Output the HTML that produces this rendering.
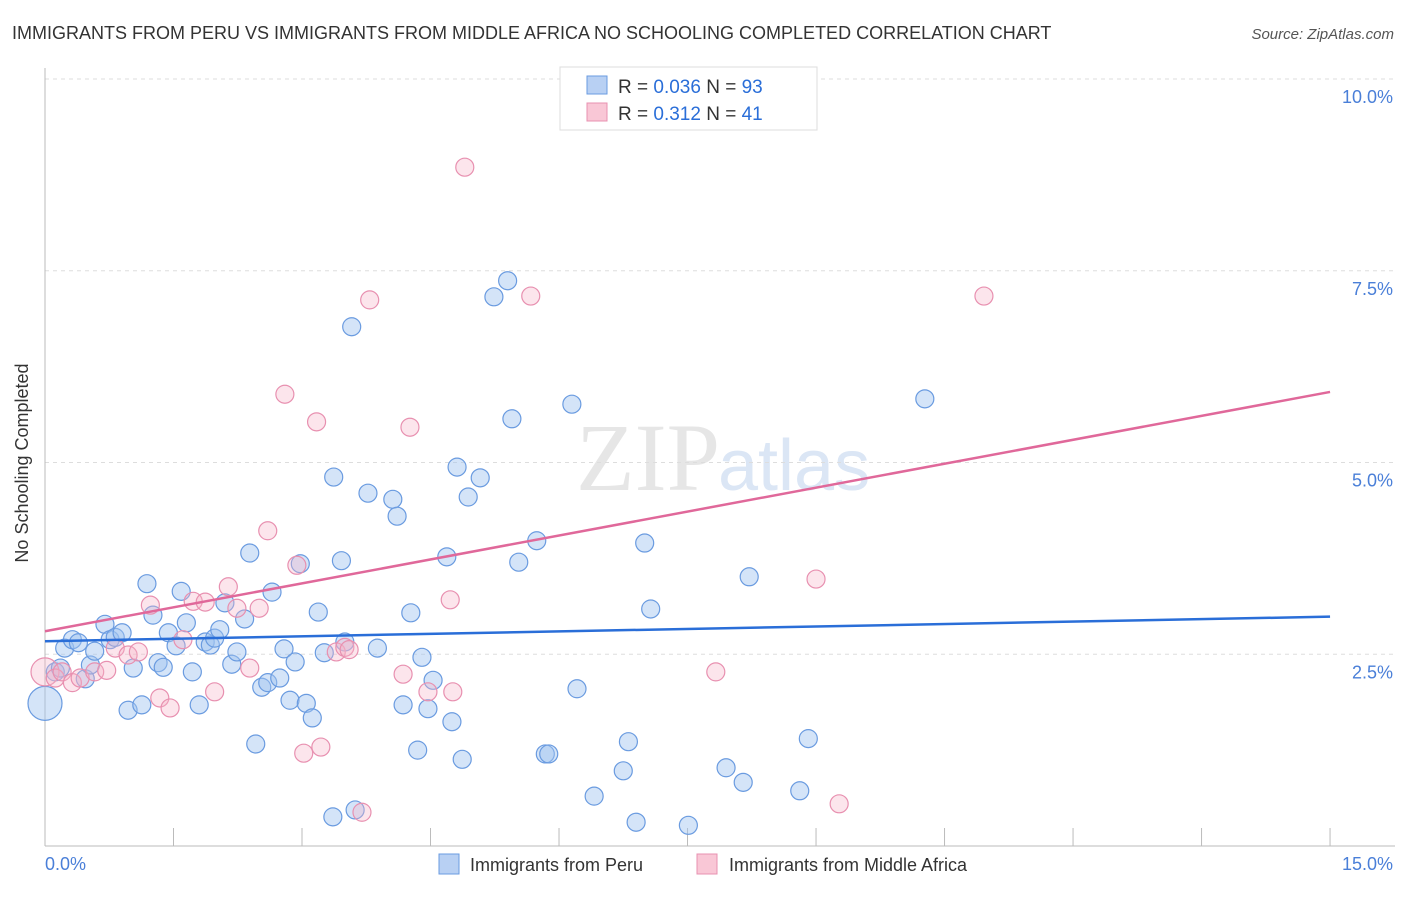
<!DOCTYPE html>
<html><head><meta charset="utf-8"><style>
body{margin:0;background:#fff;font-family:"Liberation Sans",sans-serif;}
</style></head><body>
<svg id="c" width="1406" height="892" xmlns="http://www.w3.org/2000/svg">
<text x="12" y="39" font-size="18" fill="#333">IMMIGRANTS FROM PERU VS IMMIGRANTS FROM MIDDLE AFRICA NO SCHOOLING COMPLETED CORRELATION CHART</text>
<text x="1394" y="39" font-size="15" fill="#555" font-style="italic" text-anchor="end">Source: ZipAtlas.com</text>
<text x="720" y="490" font-size="96" fill="#e6e6e6" text-anchor="end" font-family="Liberation Serif">ZIP</text>
<text x="718" y="490" font-size="72" fill="#dbe6f5">atlas</text>
<g id="grid"></g>
<line x1="45" y1="68" x2="45" y2="846" stroke="#bbb"/>
<line x1="45" y1="846" x2="1395" y2="846" stroke="#bbb"/>
<text x="22" y="457" font-size="18" fill="#333" text-anchor="middle" transform="rotate(-90 28 457)">No Schooling Completed</text>
<g id="pts"></g>
<g id="lines"></g>
<text x="45" y="870" font-size="18" fill="#4a7fd8">0.0%</text>
<text x="1393" y="870" font-size="18" fill="#4a7fd8" text-anchor="end">15.0%</text>
<g>
<rect x="560" y="67" width="257" height="63" fill="#fff" stroke="#ddd"/>
<rect x="587" y="76" width="20" height="18" fill="#b8d0f3" stroke="#6a9be0"/>
<rect x="587" y="103" width="20" height="18" fill="#f9c7d6" stroke="#e890b0"/>
<text x="618" y="93" font-size="19" fill="#333">R = <tspan fill="#2a6ed8">0.036</tspan>   N = <tspan fill="#2a6ed8">93</tspan></text>
<text x="618" y="120" font-size="19" fill="#333">R =  <tspan fill="#2a6ed8">0.312</tspan>   N =  <tspan fill="#2a6ed8">41</tspan></text>
</g>
<g>
<rect x="439" y="854" width="20" height="20" fill="#b8d0f3" stroke="#6a9be0"/>
<text x="470" y="871" font-size="18" fill="#333">Immigrants from Peru</text>
<rect x="697" y="854" width="20" height="20" fill="#f9c7d6" stroke="#e890b0"/>
<text x="729" y="871" font-size="18" fill="#333">Immigrants from Middle Africa</text>
</g>
</svg>
<script>
const yTicks=[2.5,5.0,7.5,10.0];
const xTicks=[0,1.5,3,4.5,6,7.5,9,10.5,12,13.5,15];
const peruX=[0.00,0.12,0.18,0.23,0.32,0.39,0.47,0.53,0.58,0.70,0.76,0.82,0.90,0.97,1.03,1.13,1.19,1.26,1.32,1.38,1.44,1.53,1.59,1.65,1.72,1.80,1.87,1.93,1.98,2.04,2.10,2.18,2.24,2.33,2.39,2.46,2.53,2.60,2.65,2.74,2.79,2.86,2.92,2.98,3.05,3.12,3.19,3.26,3.36,3.37,3.46,3.50,3.58,3.62,3.77,3.88,4.06,4.11,4.18,4.27,4.35,4.40,4.47,4.53,4.69,4.75,4.81,4.87,4.94,5.08,5.24,5.40,5.45,5.53,5.74,5.84,5.88,6.15,6.21,6.41,6.75,6.81,6.90,7.00,7.07,7.51,7.95,8.15,8.22,8.81,8.91,10.27];
const peruY=[1.86,2.27,2.32,2.58,2.69,2.65,2.18,2.36,2.54,2.89,2.69,2.72,2.78,1.77,2.32,1.84,3.42,3.01,2.39,2.33,2.78,2.61,3.32,2.91,2.27,1.84,2.66,2.62,2.71,2.82,3.17,2.37,2.53,2.96,3.82,1.33,2.07,2.13,3.31,2.19,2.57,1.90,2.40,3.68,1.86,1.67,3.05,2.52,0.38,4.81,3.72,2.66,6.77,0.47,4.60,2.58,4.52,4.30,1.84,3.04,1.25,2.46,1.79,2.16,3.77,1.62,4.94,1.13,4.55,4.80,7.16,7.37,5.57,3.70,3.98,1.20,1.20,5.76,2.05,0.65,0.98,1.36,0.31,3.95,3.09,0.27,1.02,0.83,3.51,0.72,1.40,5.83];
const afrX=[0.00,0.12,0.20,0.32,0.41,0.58,0.72,0.82,0.97,1.09,1.23,1.34,1.46,1.61,1.73,1.87,1.98,2.14,2.24,2.39,2.50,2.60,2.80,2.94,3.02,3.17,3.22,3.40,3.50,3.55,3.70,3.79,4.18,4.26,4.47,4.73,4.76,4.90,5.67,7.83,9.00,9.27,10.96];
const afrY=[2.27,2.19,2.27,2.13,2.19,2.27,2.29,2.58,2.49,2.53,3.14,1.93,1.80,2.69,3.19,3.18,2.01,3.38,3.10,2.32,3.10,4.11,5.89,3.66,1.21,5.53,1.29,2.53,2.59,2.56,0.44,7.12,2.24,5.46,2.01,3.21,2.01,8.85,7.17,2.27,3.48,0.55,7.17];
const peruTrend=[2.67,2.99];
const afrTrend=[2.80,5.92];
const NS='http://www.w3.org/2000/svg';
const sx=v=>45+v*85.67, sy=v=>846-v*76.7;
function mk(tag,attrs,parent){const e=document.createElementNS(NS,tag);for(const k in attrs)e.setAttribute(k,attrs[k]);parent.appendChild(e);return e;}
const grid=document.getElementById('grid');
yTicks.forEach(t=>{
  const l=mk('line',{x1:45,x2:1395,y1:sy(t),y2:sy(t),stroke:'#ddd','stroke-dasharray':'4,4'},grid);
  
  
  const tx=mk('text',{x:1393,y:sy(t)+24,'font-size':18,fill:'#4a7fd8','text-anchor':'end'},grid);
  tx.textContent=t.toFixed(1)+'%';
  
  
});
xTicks.forEach(t=>{
  const l=mk('line',{x1:sx(t),x2:sx(t),y1:828,y2:846,stroke:'#bbb'},grid);
  
  
});
const pts=document.getElementById('pts');
peruX.forEach((x,i)=>{
  const r=i===0?17:9;
  const c=mk('circle',{cx:sx(x),cy:sy(peruY[i]),r:r,fill:'rgba(160,195,240,0.45)',stroke:'#6a9be0','stroke-width':1.2},pts);
  
  
});
afrX.forEach((x,i)=>{
  const r=i===0?14:9;
  const c=mk('circle',{cx:sx(x),cy:sy(afrY[i]),r:r,fill:'rgba(245,180,200,0.35)',stroke:'#e890b0','stroke-width':1.2},pts);
  
  
});
const lines=document.getElementById('lines');
const l1=mk('line',{x1:sx(0),x2:sx(15),y1:sy(peruTrend[0]),y2:sy(peruTrend[1]),stroke:'#2a6ed8','stroke-width':2.5},lines);


const l2=mk('line',{x1:sx(0),x2:sx(15),y1:sy(afrTrend[0]),y2:sy(afrTrend[1]),stroke:'#e0689a','stroke-width':2.5},lines);


</script>
</body></html>
